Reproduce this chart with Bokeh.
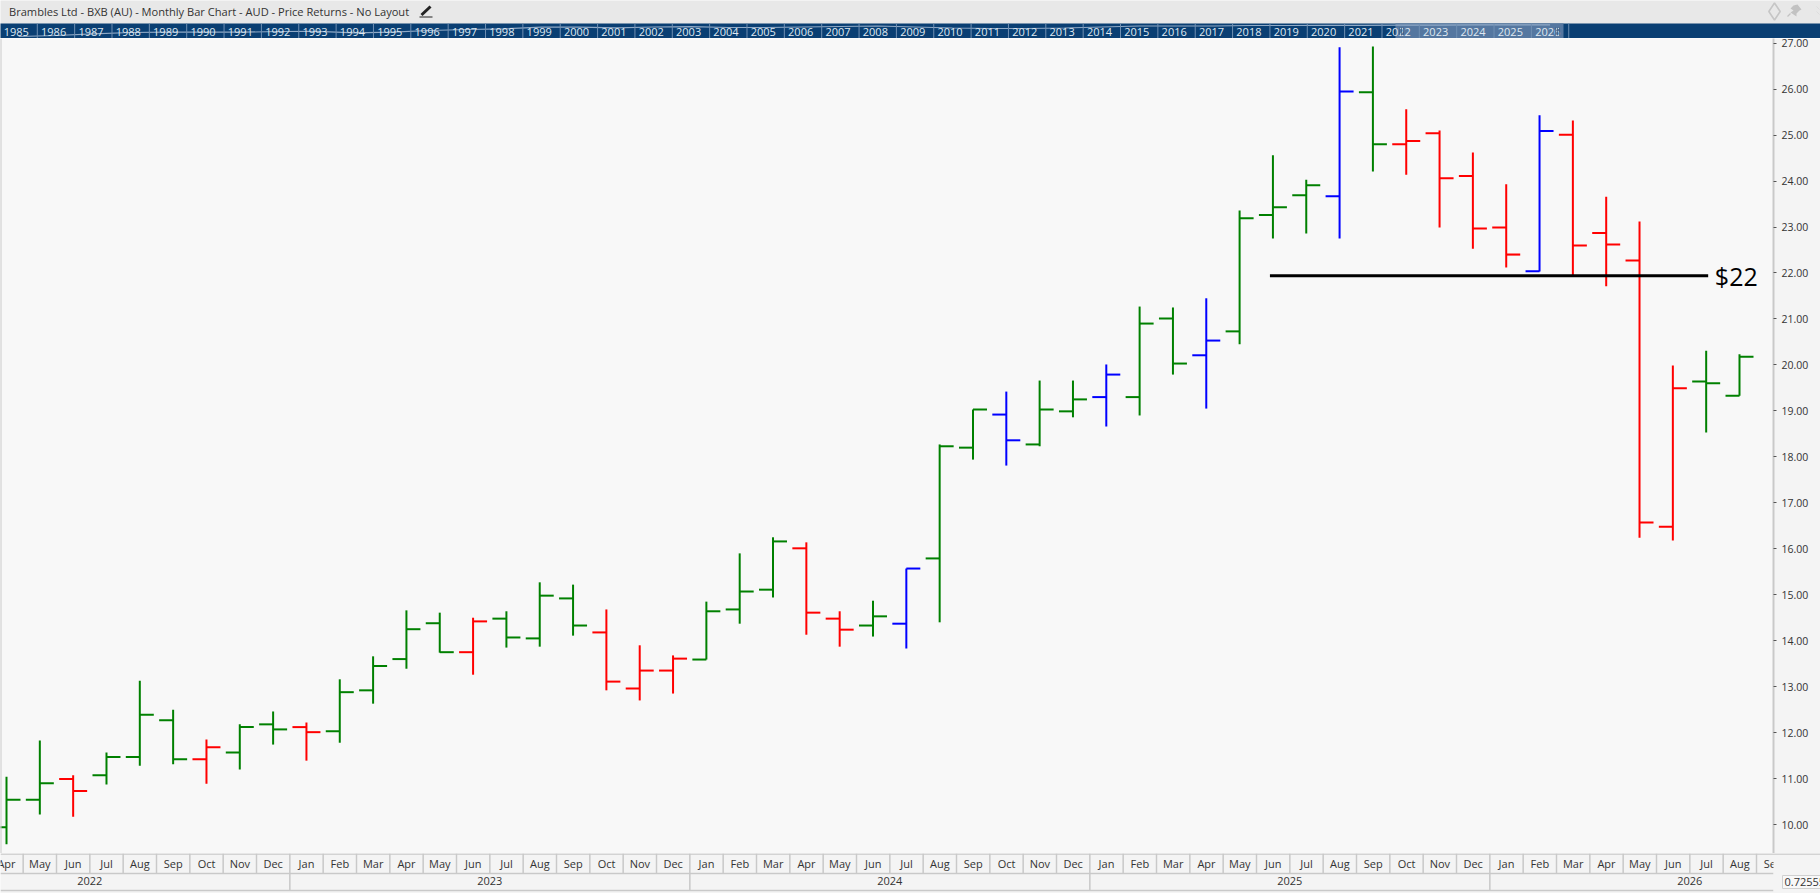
from bokeh.plotting import figure
from bokeh.layouts import column
from bokeh.models import Range1d, LinearAxis, FixedTicker, NumeralTickFormatter, ColumnDataSource
from bokeh.core.properties import value
from bokeh.embed import file_html
from bokeh.resources import INLINE

FONT = value("Open Sans")
TXT = "#333333"
GRID = "#c9c9c9"

months = ["Apr","May","Jun","Jul","Aug","Sep","Oct","Nov","Dec",
          "Jan","Feb","Mar","Apr","May","Jun","Jul","Aug","Sep","Oct","Nov","Dec",
          "Jan","Feb","Mar","Apr","May","Jun","Jul","Aug","Sep","Oct","Nov","Dec",
          "Jan","Feb","Mar","Apr","May","Jun","Jul","Aug","Sep","Oct","Nov","Dec",
          "Jan","Feb","Mar","Apr","May","Jun","Jul","Aug","Sep"]

opens = [9.94,10.54,10.99,11.07,11.47,12.27,11.42,11.57,12.18,12.12,12.03,12.92,13.60,14.38,13.75,
         14.48,14.05,14.92,14.18,12.96,13.35,13.59,14.68,15.11,16.01,14.48,14.33,14.37,15.79,18.20,
         18.92,18.27,18.99,19.30,19.30,21.01,20.21,20.73,23.26,23.69,23.67,25.93,24.80,25.04,24.11,
         22.99,22.04,25.01,22.87,22.27,16.48,19.64,19.33]
highs = [11.04,11.83,11.07,11.57,13.13,12.50,11.85,12.18,12.46,12.22,13.16,13.66,14.66,14.61,14.50,
         14.64,15.27,15.22,14.68,13.90,13.68,14.85,15.90,16.25,16.14,14.64,14.87,15.57,18.27,19.03,
         19.42,19.66,19.66,20.01,21.27,21.25,21.45,23.36,24.56,24.03,26.91,26.93,25.56,25.10,24.62,
         23.93,25.43,25.32,23.66,23.12,19.99,20.31,20.23]
lows = [9.57,10.22,10.17,10.87,11.28,11.31,10.89,11.20,11.74,11.39,11.78,12.63,13.39,13.74,13.26,
        13.85,13.87,14.11,12.92,12.70,12.85,13.59,14.37,14.94,14.13,13.87,14.09,13.83,14.40,17.94,
        17.81,18.23,18.86,18.66,18.90,19.79,19.05,20.45,22.75,22.86,22.75,24.21,24.14,22.99,22.53,
        22.12,22.03,21.94,21.71,16.24,16.18,18.53,19.33]
closes = [10.54,10.90,10.73,11.47,12.39,11.42,11.68,12.12,12.07,12.01,12.88,13.45,14.25,13.75,14.42,
          14.07,14.98,14.33,13.11,13.35,13.61,14.64,15.07,16.16,14.61,14.24,14.53,15.57,18.23,19.03,
          18.36,19.03,19.25,19.79,20.90,20.03,20.53,23.19,23.43,23.91,25.95,24.80,24.87,24.06,22.97,
          22.40,25.09,22.60,22.62,16.57,19.49,19.60,20.18]
trend = ["g","g","r","g","g","g","r","g","g","r","g","g","g","g","r",
         "g","g","g","r","r","r","g","g","g","r","r","g","b","g","g",
         "b","g","g","b","g","g","b","g","g","g","b","g","r","r","r",
         "r","b","r","r","r","r","g","g"]
palette = {"g": "#008000", "r": "#ff0000", "b": "#0000ff"}

price_ticks = list(range(10, 28))
level_price = 21.94
level_start = 37.91
level_end = 51.06
level_label = "$22"

years = list(range(1985, 2027))
nav_line = [2,3,4.7,6,6.3,6.3,6.3,7,7.2,5.7,6.3,8,9,9.7,11.3,11.3,10.7,
            11.5,11.8,11,11,11.5,12,12.5,11.5,10.5,10,10,10.5,11.5,12.5,12.5,12.5,13,
            13,13.2,13.2,13.4,13.4,13.7,13.7,13.7]
title = "Brambles Ltd - BXB (AU) - Monthly Bar Chart - AUD - Price Returns - No Layout"
side_value = "0.72555"

# ---------- header + navigator ----------
top = figure(width=1820, height=38, x_range=Range1d(0, 1820), y_range=Range1d(38, 0),
             output_backend="svg", toolbar_location=None, min_border=0, frame_align=False,
             background_fill_color="#e8e8e8", border_fill_color="#e8e8e8")
top.axis.visible = False
top.grid.visible = False
top.outline_line_color = None
top.extra_x_ranges["yr"] = Range1d(1985.015, 2033.74)

top.quad(left=[1985.0], right=[2034.0], top=[23], bottom=[38], fill_color="#0a3f73", line_color=None, x_range_name="yr")
top.quad(left=[2022.36], right=[2026.86], top=[23], bottom=[38], fill_color="#5577a0", line_color=None, x_range_name="yr")
top.line([y + 0.5 for y in years], [38 - v for v in nav_line], line_color="#8fa9c6", line_width=1.2, x_range_name="yr")
top.segment([y + 1 for y in years], [23] * len(years), [y + 1 for y in years], [38] * len(years),
            line_color="#6f8fb2", line_width=1, x_range_name="yr")
top.text([y + 0.1 for y in years], [31] * len(years), text=[str(y) for y in years], text_font=FONT,
         text_font_size="11px", text_color="#dfe8f1", text_align="left", text_baseline="middle",
         x_range_name="yr")
top.segment([1399, 1401, 1403, 1555, 1557, 1559], [27] * 6, [1399, 1401, 1403, 1555, 1557, 1559], [35] * 6,
            line_color="#3f5f85", line_width=0.8)
top.text([8.5], [11], text=[title], text_font=FONT, text_font_size="11.1px", text_color=TXT,
         text_align="left", text_baseline="middle")
# pencil
top.line([421, 430], [14.5, 6], line_color="#222222", line_width=3)
top.segment([419], [16.5], [432], [16.5], line_color="#222222", line_width=1)
# diamond, pin, faint icon
top.scatter([1774], [11], marker="diamond", size=17, fill_color=None, line_color="#c6c6c6", line_width=1.6)
top.patch([1793, 1797, 1801, 1799, 1796, 1796, 1790, 1793, 1790],
          [5, 4, 9, 10, 13, 16, 12, 10, 8], fill_color="#c2c2c2", line_color=None)
top.line([1790, 1787], [13, 16], line_color="#c2c2c2", line_width=1.2)
top.segment([1816, 1816], [6, 11], [1819, 1819], [9, 14], line_color="#dddddd", line_width=1)

# ---------- main chart ----------
x_range = Range1d(-0.18, 53.02)
p = figure(width=1820, height=815, x_range=x_range, y_range=Range1d(9.37, 27.102),
           output_backend="svg", toolbar_location=None, y_axis_location=None, x_axis_location=None,
           frame_align=False,
           min_border_left=0, min_border_top=0, min_border_bottom=0, min_border_right=47,
           background_fill_color="#f8f8f8", border_fill_color="#f4f4f4")
p.grid.visible = False
p.outline_line_color = None

idx = list(range(len(opens)))
cols = [palette[t] for t in trend]
src = ColumnDataSource(dict(x=idx, lx=[i - 0.42 for i in idx], rx=[i + 0.42 for i in idx],
                            o=opens, h=highs, l=lows, c=closes, col=cols))
p.segment("x", "l", "x", "h", source=src, line_color="col", line_width=2)
p.segment("lx", "o", "x", "o", source=src, line_color="col", line_width=2)
p.segment("x", "c", "rx", "c", source=src, line_color="col", line_width=2)

p.segment([level_start], [level_price], [level_end], [level_price], line_color="#000000", line_width=3.2)
p.text([level_end + 0.2], [level_price], text=[level_label], text_font=FONT, text_font_size="25px",
       text_color="#000000", text_align="left", text_baseline="middle")
p.segment([-0.18], [9.37], [-0.18], [27.102], line_color=GRID, line_width=2)

axis = LinearAxis(ticker=FixedTicker(ticks=price_ticks), formatter=NumeralTickFormatter(format="0.00"),
                  axis_line_color=GRID, axis_line_width=2, major_tick_line_color="#555555",
                  major_tick_in=0, major_tick_out=3, minor_tick_line_color=None,
                  major_label_standoff=5, major_label_text_font="Open Sans",
                  major_label_text_font_size="10.5px", major_label_text_color=TXT)
p.add_layout(axis, "right")

# ---------- month / year strip ----------
bot = figure(width=1820, height=40, x_range=Range1d(-0.18, 54.42), y_range=Range1d(40, 0),
             output_backend="svg", toolbar_location=None, min_border=0, frame_align=False,
             background_fill_color="#f4f4f4", border_fill_color="#f4f4f4")
bot.axis.visible = False
bot.grid.visible = False
bot.outline_line_color = None

m_idx = list(range(len(months)))
bot.text(m_idx, [9.7] * len(months), text=months, text_font=FONT, text_font_size="11px",
         text_color=TXT, text_align="center", text_baseline="middle")
bot.segment([i - 0.5 for i in m_idx], [0] * len(months), [i - 0.5 for i in m_idx], [20] * len(months),
            line_color=GRID, line_width=1.5)

jan_starts = [i for i, m in enumerate(months) if m == "Jan"]
year_names = ["2022", "2023", "2024", "2025", "2026"]
year_left = [jan_starts[0] - 12] + jan_starts
bot.text([s + 5.5 for s in year_left], [27.3] * 5, text=year_names, text_font=FONT, text_font_size="11px",
         text_color=TXT, text_align="center", text_baseline="middle")
bot.segment([i - 0.5 for i in jan_starts], [20] * 4, [i - 0.5 for i in jan_starts], [37] * 4,
            line_color=GRID, line_width=1.5)
bot.segment([-0.18], [20], [53.01], [20], line_color=GRID, line_width=1.5)
bot.segment([-0.18], [37], [53.01], [37], line_color=GRID, line_width=1.5)
# the right column covers whatever runs past the chart's right edge
bot.quad(left=[53.01], right=[54.5], top=[1], bottom=[40], fill_color="#f4f4f4", line_color=None)
bot.quad(left=[53.28], right=[54.5], top=[22], bottom=[35], fill_color="#f8f8f8", line_color="#d0d0d0", line_width=1)
bot.text([53.34], [28.5], text=[side_value], text_font=FONT, text_font_size="11px", text_color=TXT,
         text_align="left", text_baseline="middle")
bot.segment([-0.18], [0.5], [54.5], [0.5], line_color=GRID, line_width=1.5)

page = column(top, p, bot, spacing=0, styles={"position": "absolute", "left": "0px", "top": "0px"})
open("out.html", "w").write(file_html(page, INLINE))
